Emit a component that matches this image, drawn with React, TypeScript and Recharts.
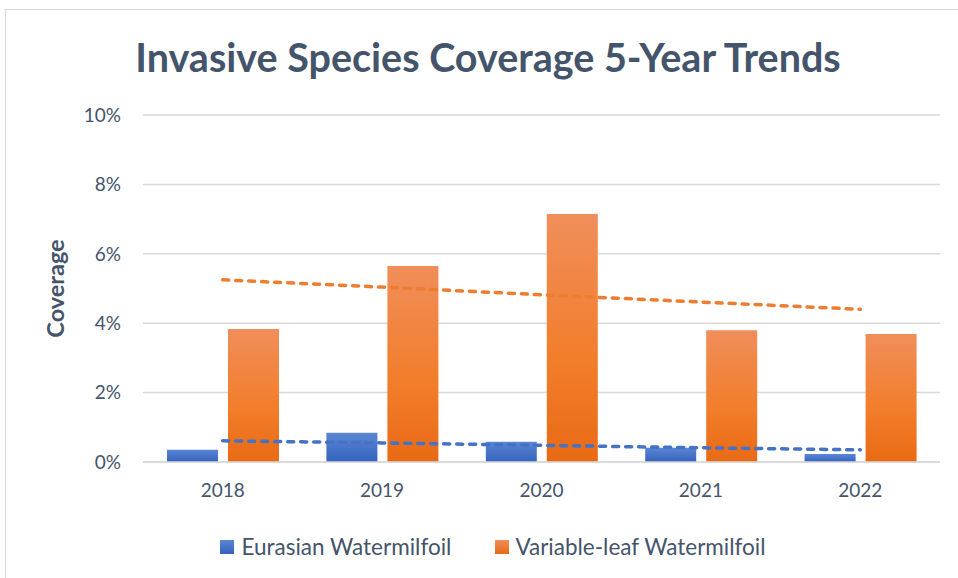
import React from 'react';
import { ComposedChart, Bar, Line, XAxis, YAxis, CartesianGrid, Legend } from 'recharts';

const years = ['2018', '2019', '2020', '2021', '2022'];
const eurasian = [0.35, 0.84, 0.58, 0.41, 0.23];
const variableLeaf = [3.83, 5.65, 7.15, 3.80, 3.69];
// trendline values as drawn on the reference
const eurasianTrend = [0.61, 0.55, 0.48, 0.41, 0.35];
const variableLeafTrend = [5.25, 5.04, 4.82, 4.61, 4.40];
const yTicks = [0, 2, 4, 6, 8, 10];

const data = years.map((year, i) => ({
  year,
  eurasian: eurasian[i],
  variableLeaf: variableLeaf[i],
  eurasianTrend: eurasianTrend[i],
  variableLeafTrend: variableLeafTrend[i],
}));

const TEXT = '#44546A';
const FONT = 'Lato, "Open Sans", sans-serif';

const renderLegend = () => (
  <div style={{ display: 'flex', justifyContent: 'center', fontFamily: FONT, fontSize: 22.5, color: TEXT, paddingLeft: 28 }}>
    <div style={{ display: 'flex', alignItems: 'center', marginRight: 44 }}>
      <span style={{ width: 14, height: 14, background: 'linear-gradient(#5A86D3, #3463BE)', marginRight: 7 }} />
      Eurasian Watermilfoil
    </div>
    <div style={{ display: 'flex', alignItems: 'center' }}>
      <span style={{ width: 14, height: 14, background: 'linear-gradient(#F08E5A, #E96A15)', marginRight: 6 }} />
      Variable-leaf Watermilfoil
    </div>
  </div>
);

export default function App() {
  return (
    <div style={{ position: 'absolute', left: 0, top: 0, width: 958, height: 578, background: '#fff', overflow: 'hidden' }}>
      <div style={{ position: 'absolute', left: 5, top: 9, width: 1000, height: 600, borderTop: '1.5px solid #D9D9D9', borderLeft: '1.5px solid #D9D9D9' }} />
      <div style={{ position: 'absolute', left: 0, top: 33, width: 976, textAlign: 'center', fontFamily: FONT, fontWeight: 700, fontSize: 39.5, color: TEXT }}>
        Invasive Species Coverage 5-Year Trends
      </div>
      <ComposedChart
        width={958}
        height={578}
        data={data}
        margin={{ top: 115, right: 18, left: 20, bottom: 49 }}
        barGap={10}
        barCategoryGap={23}
      >
        <defs>
          <linearGradient id="blueGrad" x1="0" y1="0" x2="0" y2="1">
            <stop offset="0%" stopColor="#5A86D3" />
            <stop offset="100%" stopColor="#3463BE" />
          </linearGradient>
          <linearGradient id="orangeGrad" x1="0" y1="0" x2="0" y2="1">
            <stop offset="0%" stopColor="#F08E5A" />
            <stop offset="60%" stopColor="#F27D2A" />
            <stop offset="100%" stopColor="#E96A15" />
          </linearGradient>
        </defs>
        <CartesianGrid vertical={false} stroke="#D9D9D9" strokeWidth={1.5} />
        <XAxis
          dataKey="year"
          height={40}
          tickLine={false}
          axisLine={{ stroke: '#D9D9D9', strokeWidth: 1.5 }}
          tickSize={0}
          tickMargin={22}
          tick={{ fill: TEXT, fontSize: 19, fontFamily: FONT }}
        />
        <YAxis
          width={123}
          domain={[0, 10]}
          ticks={yTicks}
          tickFormatter={(v: number) => `${v}%`}
          axisLine={false}
          tickLine={false}
          tickSize={0}
          tickMargin={22}
          tick={{ fill: TEXT, fontSize: 19, fontFamily: FONT }}
          label={{
            value: 'Coverage',
            angle: -90,
            position: 'insideLeft',
            offset: 36,
            style: { fill: TEXT, fontSize: 23.5, fontWeight: 700, fontFamily: FONT, textAnchor: 'middle' },
          }}
        />
        <Bar dataKey="eurasian" name="Eurasian Watermilfoil" fill="url(#blueGrad)" barSize={51} isAnimationActive={false} />
        <Bar dataKey="variableLeaf" name="Variable-leaf Watermilfoil" fill="url(#orangeGrad)" barSize={51} isAnimationActive={false} />
        <Line
          dataKey="eurasianTrend"
          stroke="#4472C4"
          strokeWidth={3.5}
          strokeDasharray="6 7"
          strokeLinecap="round"
          dot={false}
          activeDot={false}
          legendType="none"
          isAnimationActive={false}
        />
        <Line
          dataKey="variableLeafTrend"
          stroke="#ED7D31"
          strokeWidth={3.5}
          strokeDasharray="6 7"
          strokeLinecap="round"
          dot={false}
          activeDot={false}
          legendType="none"
          isAnimationActive={false}
        />
        <Legend verticalAlign="bottom" content={renderLegend} wrapperStyle={{ top: 533, left: 0, width: 958 }} />
      </ComposedChart>
    </div>
  );
}
